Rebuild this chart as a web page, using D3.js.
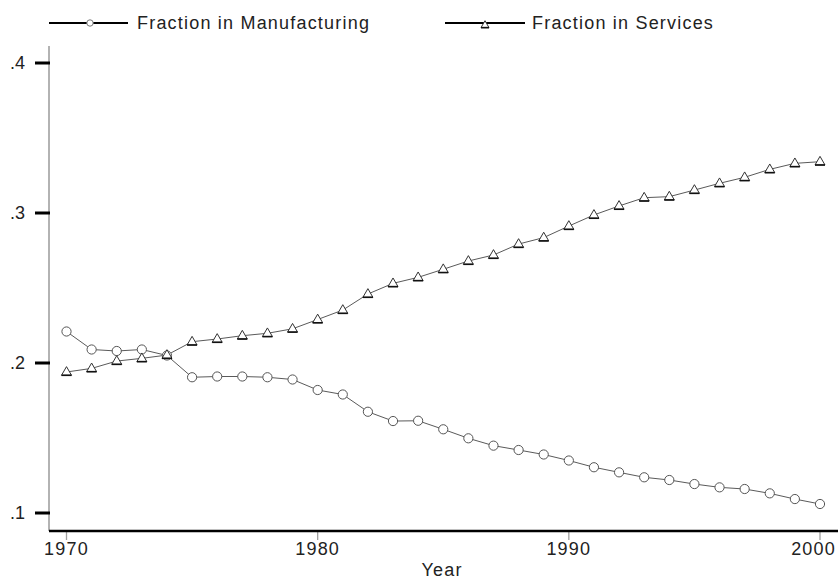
<!DOCTYPE html>
<html>
<head>
<meta charset="utf-8">
<script src="https://cdn.jsdelivr.net/npm/d3@7"></script>
<style>
  html, body { margin: 0; padding: 0; background: #fff; }
  svg { display: block; font-family: "Liberation Sans", Arial, Helvetica, sans-serif; }
</style>
</head>
<body>
<svg id="chart" width="838" height="580"></svg>
<script>
// Employment shares by sector, 1970–2000
const years = d3.range(1970, 2001);
const manufacturing = [
  0.221, 0.209, 0.208, 0.209, 0.205, 0.1905, 0.191, 0.191, 0.1905, 0.189,
  0.182, 0.179, 0.1675, 0.1613, 0.1615, 0.1558, 0.1498, 0.1449, 0.142, 0.139,
  0.135, 0.1305, 0.1271, 0.1238, 0.122, 0.1193, 0.1171, 0.116, 0.1131, 0.1093,
  0.106
];
const services = [
  0.194, 0.1964, 0.2013, 0.2031, 0.2053, 0.2142, 0.216, 0.2182, 0.2198, 0.2228,
  0.229, 0.2353, 0.246, 0.2531, 0.2571, 0.2625, 0.268, 0.272, 0.2793, 0.2836,
  0.2913, 0.2987, 0.3047, 0.3102, 0.3109, 0.3153, 0.3198, 0.3238, 0.3291, 0.3331,
  0.3342
];
const yTicks = [0.1, 0.2, 0.3, 0.4];
const xTicks = [1970, 1980, 1990, 2000];
const seriesNames = ["Fraction in Manufacturing", "Fraction in Services"];

const FONT = 18;
const SPACING = 1.2;
const TEXT_COLOR = "#222";

const svg = d3.select("#chart");

const x = d3.scaleLinear().domain([1970, 2000]).range([66.5, 820]);
const y = d3.scaleLinear().domain([0.1, 0.4]).range([513, 63]);

const axisLeftX = 49;
const axisBottomY = 531;
const fmtY = d => d3.format(".1f")(d).replace(/^0/, "");

// y axis: grey spine
svg.append("path")
  .attr("d", `M${axisLeftX},46V${axisBottomY}`)
  .attr("stroke", "#9a9a9a").attr("stroke-width", 1.5).attr("fill", "none");

// y ticks: short black bars left of the spine
svg.append("g").attr("class", "y-ticks")
  .selectAll("rect")
  .data(yTicks)
  .join("rect")
  .attr("x", axisLeftX - 14)
  .attr("y", d => y(d) - 1.5)
  .attr("width", 15)
  .attr("height", 3)
  .attr("fill", "#000");

svg.append("g").attr("class", "y-labels")
  .selectAll("text")
  .data(yTicks)
  .join("text")
  .attr("x", axisLeftX - 24)
  .attr("y", d => y(d))
  .attr("dy", "0.35em")
  .attr("text-anchor", "end")
  .style("font-size", FONT + "px")
  .attr("fill", TEXT_COLOR)
  .text(fmtY);

// x axis: thin grey ticks below a heavy black baseline
svg.append("path")
  .attr("d", xTicks.map(d => `M${x(d)},${axisBottomY}V${axisBottomY + 9}`).join(""))
  .attr("stroke", "#a0a0a0").attr("stroke-width", 1.3).attr("fill", "none");

svg.append("g").attr("class", "x-labels")
  .selectAll("text")
  .data(xTicks)
  .join("text")
  .attr("y", axisBottomY + 24)
  .attr("text-anchor", d => d === 2000 ? "end" : "middle")
  .attr("x", d => d === 2000 ? 836 : x(d))   // keep the last label inside the frame
  .style("font-size", FONT + "px")
  .style("letter-spacing", SPACING + "px")
  .attr("fill", TEXT_COLOR)
  .text(d3.format("d"));

svg.append("path")
  .attr("d", `M${axisLeftX},${axisBottomY}H838`)
  .attr("stroke", "#000").attr("stroke-width", 2.5).attr("fill", "none");

svg.append("text")
  .attr("x", 442).attr("y", 576)
  .attr("text-anchor", "middle")
  .style("font-size", FONT + "px")
  .style("letter-spacing", SPACING + "px")
  .attr("fill", TEXT_COLOR)
  .text("Year");

// series lines and markers
const line = d3.line().x((d, i) => x(years[i])).y(d => y(d));
const lineColor = "#5a5a5a";

function drawTriangle(g, cx, cy, s) {
  const h = s * 0.866;
  const top = cy - h * 0.62, base = cy + h * 0.38;
  g.append("path")
    .attr("d", `M${cx},${top} L${cx + s / 2},${base} L${cx - s / 2},${base} Z`)
    .attr("fill", "#fff").attr("stroke", "#333").attr("stroke-width", 1);
  g.append("path")
    .attr("d", `M${cx - s / 2},${base}H${cx + s / 2}`)
    .attr("stroke", "#111").attr("stroke-width", 1.6);
}

[manufacturing, services].forEach(vals => {
  svg.append("path")
    .datum(vals)
    .attr("d", line)
    .attr("fill", "none")
    .attr("stroke", lineColor)
    .attr("stroke-width", 1);
});

svg.append("g").selectAll("circle")
  .data(manufacturing)
  .join("circle")
  .attr("cx", (d, i) => x(years[i]))
  .attr("cy", d => y(d))
  .attr("r", 4.6)
  .attr("fill", "#fff")
  .attr("stroke", "#555")
  .attr("stroke-width", 1);

const gs = svg.append("g");
services.forEach((d, i) => drawTriangle(gs, x(years[i]), y(d), 10));

// legend
const legend = svg.append("g");
legend.append("path")
  .attr("d", "M49,23H128")
  .attr("stroke", "#000").attr("stroke-width", 2);
legend.append("circle")
  .attr("cx", 90).attr("cy", 23).attr("r", 3.2)
  .attr("fill", "#fff").attr("stroke", "#777").attr("stroke-width", 1);
legend.append("text")
  .attr("x", 137).attr("y", 28.5)
  .style("font-size", FONT + "px")
  .style("letter-spacing", SPACING + "px")
  .attr("fill", TEXT_COLOR)
  .text(seriesNames[0]);

legend.append("path")
  .attr("d", "M445,23H525")
  .attr("stroke", "#000").attr("stroke-width", 2);
drawTriangle(legend, 485, 25, 8);
legend.append("text")
  .attr("x", 532).attr("y", 28.5)
  .style("font-size", FONT + "px")
  .style("letter-spacing", SPACING + "px")
  .attr("fill", TEXT_COLOR)
  .text(seriesNames[1]);
</script>
</body>
</html>
